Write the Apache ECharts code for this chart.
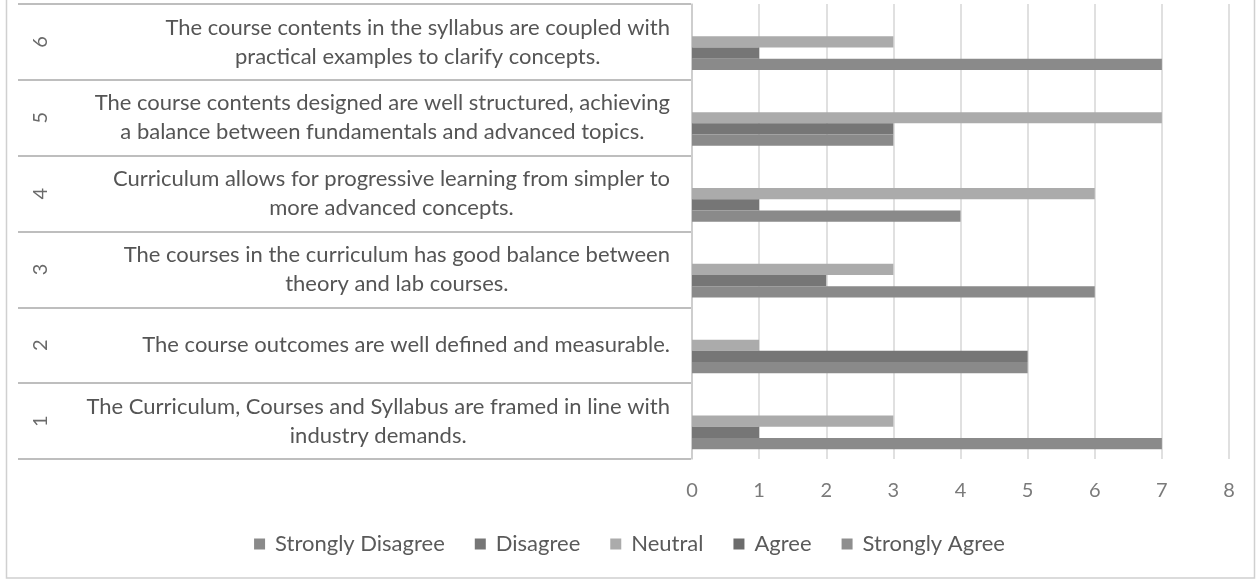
<!DOCTYPE html>
<html>
<head>
<meta charset="utf-8">
<script src="https://cdn.jsdelivr.net/npm/echarts@6/dist/echarts.min.js"></script>
<style>
html,body{margin:0;padding:0;background:#fff;}
#c{width:1259px;height:585px;}
</style>
</head>
<body>
<div id="c"></div>
<script>
const categories = ['1', '2', '3', '4', '5', '6'];
const statements = [
  'The Curriculum, Courses and Syllabus are framed in line with\nindustry demands.',
  'The course outcomes are well defined and measurable.',
  'The courses in the curriculum has good balance between\ntheory and lab courses.',
  'Curriculum allows for progressive learning from simpler to\nmore advanced concepts.',
  'The course contents designed are well structured, achieving\na balance between fundamentals and advanced topics.',
  'The course contents in the syllabus are coupled with\npractical examples to clarify concepts.'
];
const seriesNames = ['Strongly Disagree', 'Disagree', 'Neutral', 'Agree', 'Strongly Agree'];
const stronglyDisagree = [7, 5, 6, 4, 3, 7];
const disagree = [1, 5, 2, 1, 3, 1];
const neutral = [3, 1, 3, 6, 7, 3];
const agree = [0, 0, 0, 0, 0, 0];
const stronglyAgree = [0, 0, 0, 0, 0, 0];
const xTicks = [0, 1, 2, 3, 4, 5, 6, 7, 8];

const seriesValues = [stronglyDisagree, disagree, neutral, agree, stronglyAgree];
const colors = ['#8a8a8a', '#767676', '#ababab', '#6c6c6c', '#8e8e8e'];

const TOP = 4, BOTTOM = 126;
const FONT = 'Lato';

const chart = echarts.init(document.getElementById('c'));

// ECharts puts series 0 at the top of each band; Excel puts series 1 at the bottom.
const order = [4, 3, 2, 1, 0];
const series = order.map(i => ({
  name: seriesNames[i],
  type: 'bar',
  xAxisIndex: 0,
  yAxisIndex: 0,
  data: seriesValues[i],
  itemStyle: { color: colors[i] },
  barGap: '0%',
  barCategoryGap: '26%',
  silent: true
}));

chart.setOption({
  animation: false,
  backgroundColor: '#ffffff',
  graphic: [{
    type: 'rect',
    shape: { x: 6.5, y: -2, width: 1248, height: 580 },
    style: { fill: 'none', stroke: '#d0d0d0', lineWidth: 1.5 },
    silent: true
  }],
  legend: {
    data: seriesNames,
    bottom: 25,
    left: 'center',
    icon: 'rect',
    itemWidth: 11,
    itemHeight: 11,
    itemGap: 30,
    textStyle: { fontFamily: FONT, fontSize: 22, color: '#5a5a5a', padding: [0, 0, 0, 5] }
  },
  grid: [
    { left: 692, right: 30, top: TOP, bottom: BOTTOM },
    { left: 18, right: 1259 - 691, top: TOP, bottom: BOTTOM }
  ],
  xAxis: [
    {
      gridIndex: 0, type: 'value', min: 0, max: 8, interval: 1,
      axisLine: { show: false }, axisTick: { show: false },
      splitLine: { show: true, lineStyle: { color: '#d6d6d6', width: 1.5 } },
      axisLabel: { fontFamily: FONT, fontSize: 20, color: '#7a7a7a', margin: 22,
        formatter: v => String(xTicks[v] !== undefined ? xTicks[v] : v) }
    },
    { gridIndex: 1, type: 'value', show: false, min: 0, max: 1 }
  ],
  yAxis: [
    {
      gridIndex: 0, type: 'category', data: categories,
      axisLine: { show: true, lineStyle: { color: '#c8c8c8', width: 1.5 } },
      axisTick: { show: false }, axisLabel: { show: false }, splitLine: { show: false }
    },
    {
      gridIndex: 1, type: 'category', data: categories, position: 'left',
      axisLine: { show: false }, axisTick: { show: false },
      splitLine: { show: true, lineStyle: { color: '#a8a8a8', width: 1.5 } },
      axisLabel: { show: true, inside: true, rotate: 90, margin: 13,
        fontFamily: FONT, fontSize: 20, color: '#6a6a6a' }
    },
    {
      gridIndex: 1, type: 'category', data: statements, position: 'right',
      axisLine: { show: false }, axisTick: { show: false }, splitLine: { show: false },
      axisLabel: {
        show: true, inside: true, margin: 21, interval: 0,
        formatter: v => v.split('\n').map(s => '{c|' + s + '}').join('\n'),
        rich: { c: { align: 'center', fontFamily: FONT, fontSize: 22, color: '#555555', lineHeight: 29 } }
      }
    }
  ],
  series: series
});
</script>
</body>
</html>
